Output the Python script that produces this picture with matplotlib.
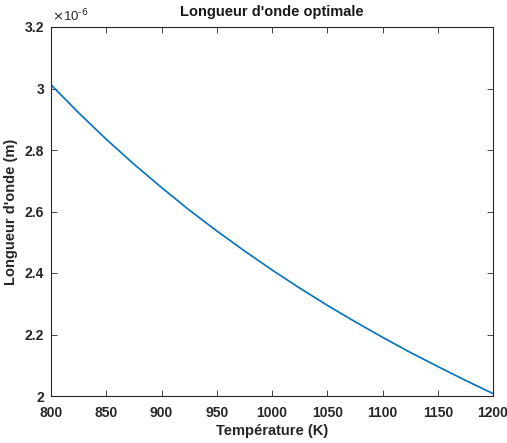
import matplotlib
matplotlib.use("Agg")
import matplotlib.pyplot as plt
from matplotlib.ticker import FuncFormatter

temperature_K = [800, 825, 850, 875, 900, 925, 950, 975, 1000, 1025, 1050,
                 1075, 1100, 1125, 1150, 1175, 1200]
wavelength_m = [3.012e-6, 2.921e-6, 2.835e-6, 2.754e-6, 2.678e-6, 2.605e-6,
                2.537e-6, 2.472e-6, 2.410e-6, 2.351e-6, 2.295e-6, 2.242e-6,
                2.191e-6, 2.142e-6, 2.096e-6, 2.051e-6, 2.008e-6]
x_ticks = [800, 850, 900, 950, 1000, 1050, 1100, 1150, 1200]
y_ticks = [2.0e-6, 2.2e-6, 2.4e-6, 2.6e-6, 2.8e-6, 3.0e-6, 3.2e-6]

plt.rcParams['font.family'] = ['Liberation Sans', 'DejaVu Sans']
fig = plt.figure(figsize=(5.07, 4.43), dpi=100)
ax = fig.add_axes([51/507, 47/443, 442/507, 369/443])
ax.plot(temperature_K, wavelength_m, color='#0072BD', lw=1.2)
ax.set_xlim(800, 1200)
ax.set_ylim(2.0e-6, 3.2e-6)
ax.set_xticks(x_ticks)
ax.set_yticks(y_ticks)
ax.yaxis.set_major_formatter(FuncFormatter(lambda v, p: f"{round(v*1e6, 1):g}"))
for s in ax.spines.values():
    s.set_color('#262626')
    s.set_linewidth(0.8)
ax.tick_params(direction='in', length=4, width=0.6, colors='#262626',
               top=True, right=True, labelsize=10)
ax.tick_params(axis='x', pad=7)
ax.tick_params(axis='y', pad=5)
for lab in ax.get_xticklabels() + ax.get_yticklabels():
    lab.set_fontweight('bold')
ax.set_title("Longueur d'onde optimale", fontsize=10.5, fontweight='bold', color='#1a1a1a', pad=8)
ax.set_xlabel("Température (K)", fontsize=10.5, fontweight='bold', color='#262626', labelpad=3)
ax.set_ylabel("Longueur d'onde (m)", fontsize=10.5, fontweight='bold', color='#262626', labelpad=5)
ax.text(0.003, 1.008, r"$\times$10$^{\text{-}6}$", transform=ax.transAxes, ha='left', va='bottom',
        fontsize=9.5, color='#262626')
fig.savefig("out.png", dpi=100)
